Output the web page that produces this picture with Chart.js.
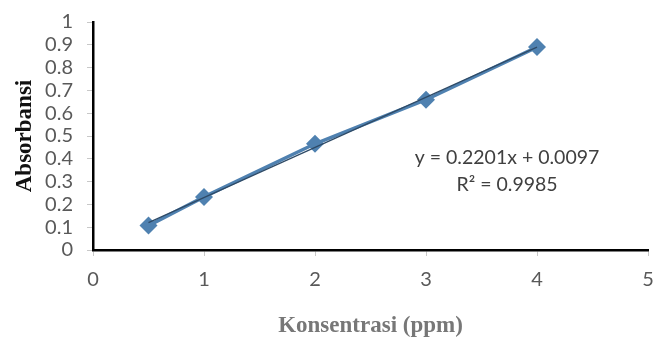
<!DOCTYPE html>
<html>
<head>
<meta charset="utf-8">
<script src="https://cdn.jsdelivr.net/npm/chart.js@4"></script>
<style>
  html, body { margin: 0; padding: 0; background: #fff; }
  #wrap { width: 657px; height: 342px; }
</style>
</head>
<body>
<div id="wrap"><canvas id="c" width="657" height="342"></canvas></div>
<script>
// Data
const konsentrasi = [0.5, 1, 2, 3, 4];
const absorbansi = [0.107, 0.233, 0.466, 0.659, 0.89];
const trendX = [0.5, 4];
const trendY = [0.12, 0.89];
const xTicks = [0, 1, 2, 3, 4, 5];
const yTicks = [0, 0.1, 0.2, 0.3, 0.4, 0.5, 0.6, 0.7, 0.8, 0.9, 1];
const equationLines = ['y = 0.2201x + 0.0097', 'R\u00B2 = 0.9985'];

const tickFont = { family: 'Lato', size: 20 };
const titleFont = { family: '"Liberation Serif", "Times New Roman", serif', size: 23, weight: 'bold' };

// writes the trendline label inside the plot
const equationLabel = {
  id: 'equationLabel',
  afterDatasetsDraw(chart) {
    const { ctx, scales } = chart;
    const cx = scales.x.getPixelForValue(3.73);
    const cy = scales.y.getPixelForValue(0.405);
    ctx.save();
    ctx.fillStyle = '#404040';
    ctx.font = '19.5px Lato';
    ctx.textAlign = 'center';
    ctx.textBaseline = 'middle';
    equationLines.forEach((t, i) => ctx.fillText(t, cx, cy + i * 27));
    ctx.restore();
  },
};

new Chart(document.getElementById('c'), {
  type: 'scatter',
  data: {
    datasets: [
      {
        label: 'Absorbansi',
        data: konsentrasi.map((x, i) => ({ x, y: absorbansi[i] })),
        showLine: true,
        borderColor: '#4f81b0',
        backgroundColor: '#4f81b0',
        borderWidth: 3.5,
        pointStyle: 'rectRot',
        pointRadius: 9,
        pointBorderWidth: 0,
        order: 2,
      },
      {
        label: 'Linear',
        data: trendX.map((x, i) => ({ x, y: trendY[i] })),
        showLine: true,
        borderColor: '#2e4a66',
        borderWidth: 1.2,
        pointRadius: 0,
        order: 1,
      },
    ],
  },
  options: {
    responsive: false,
    animation: false,
    layout: { padding: { top: 22, right: 0, left: 0, bottom: 0 } },
    plugins: { legend: { display: false }, tooltip: { enabled: false } },
    scales: {
      x: {
        type: 'linear',
        min: 0,
        max: 5,
        afterBuildTicks: (s) => { s.ticks = xTicks.map((v) => ({ value: v })); },
        afterFit: (s) => { s.height = 92; s.paddingLeft = 0; s.paddingRight = 0; },
        grid: { drawOnChartArea: false, drawTicks: true, tickLength: 6, color: '#c8c8c8' },
        border: { color: '#000', width: 2.5 },
        ticks: { color: '#595959', font: tickFont, padding: 12, autoSkip: false, maxRotation: 0 },
        title: {
          display: true,
          text: 'Konsentrasi (ppm)',
          color: '#777',
          font: titleFont,
          padding: { top: 0, bottom: 2 },
        },
      },
      y: {
        type: 'linear',
        min: 0,
        max: 1,
        afterBuildTicks: (s) => { s.ticks = yTicks.map((v) => ({ value: v })); },
        afterFit: (s) => { s.width = 93; s.paddingTop = 0; s.paddingBottom = 0; },
        grid: { drawOnChartArea: false, drawTicks: true, tickLength: 6, color: '#c8c8c8' },
        border: { color: '#000', width: 2.5 },
        ticks: {
          color: '#595959',
          font: tickFont,
          padding: 14,
          autoSkip: false,
          callback: (v) => String(Math.round(v * 10) / 10),
        },
        title: {
          display: true,
          text: 'Absorbansi',
          color: '#111',
          font: titleFont,
          padding: { top: 11, bottom: 0 },
        },
      },
    },
  },
  plugins: [equationLabel],
});
</script>
</body>
</html>
